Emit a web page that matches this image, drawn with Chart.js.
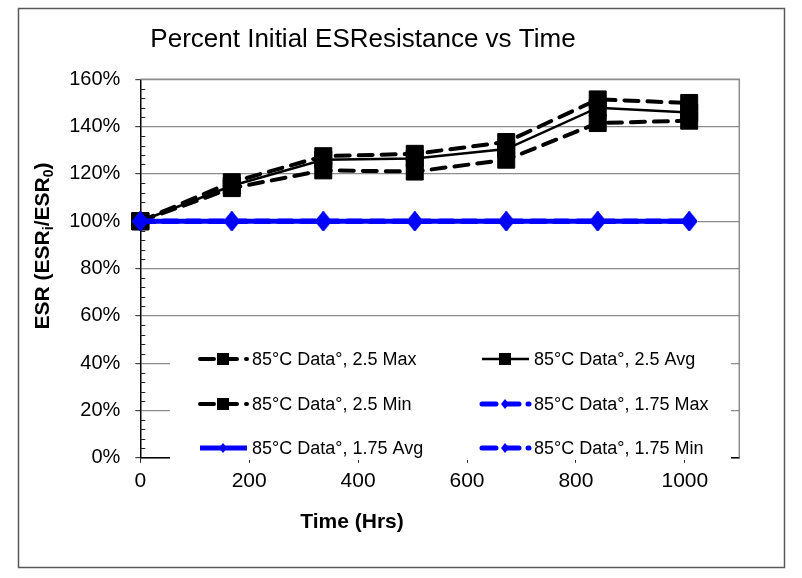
<!DOCTYPE html>
<html><head><meta charset="utf-8">
<script src="https://cdn.jsdelivr.net/npm/chart.js@4/dist/chart.umd.min.js"></script>
<style>html,body{margin:0;padding:0;background:#fff;}#wrap{width:802px;height:578px;}</style>
</head><body><div id="wrap"><canvas id="c" width="802" height="578"></canvas></div>
<script>
// ---- data ----
const hours = [0, 168, 336, 504, 672, 840, 1008];
const esr25Max = [100, 116.5, 127.5, 128.5, 133.5, 151.5, 150];
const esr25Avg = [100, 115, 126, 126.5, 130.5, 148, 146];
const esr25Min = [100, 114, 121.5, 121, 126, 141.5, 142.5];
const esr175Max = [100, 100, 100, 100, 100, 100, 100];
const esr175Avg = [100, 100, 100, 100, 100, 100, 100];
const esr175Min = [100, 100, 100, 100, 100, 100, 100];
const seriesNames = ['85°C Data°, 2.5 Max', '85°C Data°, 2.5 Avg', '85°C Data°, 2.5 Min',
                     '85°C Data°, 1.75 Max', '85°C Data°, 1.75 Avg', '85°C Data°, 1.75 Min'];
const xTickValues = [0, 200, 400, 600, 800, 1000];
const yTickValues = [0, 20, 40, 60, 80, 100, 120, 140, 160];
const chartTitle = 'Percent Initial ESResistance vs Time';
const xTitle = 'Time (Hrs)';

// ---- styling ----
const FONT = "'Liberation Sans', Arial, sans-serif";
const BLUE = '#0000ff';
function diamondImg(w, h, color) {
  const c = document.createElement('canvas'); c.width = w; c.height = h;
  const g = c.getContext('2d'); g.fillStyle = color;
  g.beginPath(); g.moveTo(w / 2, 0); g.lineTo(w, h / 2); g.lineTo(w / 2, h); g.lineTo(0, h / 2); g.closePath(); g.fill();
  return c;
}
const diamond = diamondImg(16, 20, BLUE);
const toXY = arr => arr.map((v, i) => ({ x: hours[i], y: v }));
const blackDash = { borderColor: '#000', borderWidth: 4, borderDash: [14, 9], borderCapStyle: 'round',
  pointStyle: 'rect', pointRadius: 12, pointBackgroundColor: '#000', pointBorderColor: '#000', pointBorderWidth: 1, order: 2 };
const blueBase = { borderColor: BLUE, borderWidth: 5, pointStyle: diamond, pointRadius: 9, order: 0 };

const datasets = [
  Object.assign({ label: seriesNames[0], data: toXY(esr25Max) }, blackDash),
  { label: seriesNames[1], data: toXY(esr25Avg), borderColor: '#000', borderWidth: 2.5, pointStyle: 'rect',
    pointRadius: 12, pointBackgroundColor: '#000', pointBorderColor: '#000', pointBorderWidth: 1, order: 1 },
  Object.assign({ label: seriesNames[2], data: toXY(esr25Min) }, blackDash),
  Object.assign({ label: seriesNames[3], data: toXY(esr175Max), borderDash: [14, 9], borderCapStyle: 'round' }, blueBase),
  Object.assign({ label: seriesNames[4], data: toXY(esr175Avg) }, blueBase),
  Object.assign({ label: seriesNames[5], data: toXY(esr175Min), borderDash: [14, 9], borderCapStyle: 'round' }, blueBase)
].map(d => Object.assign({ clip: false, fill: false, tension: 0 }, d));

const yMinorStep = 4;
const decor = {
  id: 'decor',
  beforeDraw(chart) {
    const ctx = chart.ctx; ctx.save(); ctx.fillStyle = '#fff'; ctx.fillRect(0, 0, chart.width, chart.height); ctx.restore();
  },
  beforeDatasetsDraw(chart) {
    const { ctx, chartArea: a, scales: { y } } = chart;
    ctx.save();
    ctx.strokeStyle = '#8c8c8c'; ctx.lineWidth = 1.5;
    ctx.beginPath(); ctx.moveTo(a.left, a.top); ctx.lineTo(a.right, a.top); ctx.lineTo(a.right, a.bottom); ctx.stroke();
    ctx.strokeStyle = '#222'; ctx.lineWidth = 1; ctx.beginPath();
    for (let v = y.min; v <= y.max; v += yMinorStep) {
      if (yTickValues.includes(v)) continue;
      const py = Math.round(y.getPixelForValue(v)) + 0.5;
      ctx.moveTo(a.left, py); ctx.lineTo(a.left + 5, py);
    }
    ctx.stroke();
    ctx.restore();
  },
  afterDraw(chart) {
    const ctx = chart.ctx;
    ctx.save();
    // legend box (covers part of the x axis as in the reference)
    ctx.fillStyle = '#fff'; ctx.fillRect(170, 334, 561, 126);
    const cols = [200, 482], rows = [359, 404, 448];
    chart.data.datasets.forEach((ds, i) => {
      const x0 = cols[i % 2], yy = rows[Math.floor(i / 2)];
      ctx.save();
      ctx.strokeStyle = ds.borderColor; ctx.lineWidth = ds.borderWidth;
      ctx.lineCap = ds.borderCapStyle || 'butt';
      ctx.setLineDash(ds.borderDash || []);
      ctx.beginPath(); ctx.moveTo(x0, yy); ctx.lineTo(x0 + 47, yy); ctx.stroke();
      ctx.setLineDash([]);
      const mx = x0 + 23;
      ctx.fillStyle = ds.borderColor;
      if (ds.pointStyle === 'rect') { ctx.fillRect(mx - 6, yy - 6, 12, 12); }
      else { ctx.beginPath(); ctx.moveTo(mx, yy - 5); ctx.lineTo(mx + 4, yy); ctx.lineTo(mx, yy + 5); ctx.lineTo(mx - 4, yy); ctx.closePath(); ctx.fill(); }
      ctx.restore();
      ctx.fillStyle = '#000'; ctx.font = '18px ' + FONT; ctx.textBaseline = 'middle'; ctx.textAlign = 'left';
      ctx.fillText(ds.label, x0 + 52, yy + 1);
    });
    // chart title
    ctx.fillStyle = '#000'; ctx.textAlign = 'center'; ctx.textBaseline = 'alphabetic';
    ctx.font = '26px ' + FONT; ctx.fillText(chartTitle, 363, 47);
    // x title
    ctx.font = 'bold 21px ' + FONT; ctx.textBaseline = 'middle'; ctx.fillText(xTitle, 352, 522);
    // y title with subscripts
    ctx.save(); ctx.translate(42, 246); ctx.rotate(-Math.PI / 2);
    const parts = [['ESR (ESR', 0], ['i', 1], ['/ESR', 0], ['0', 1], [')', 0]];
    const big = 'bold 21px ' + FONT, small = 'bold 14px ' + FONT;
    let total = 0;
    parts.forEach(p => { ctx.font = p[1] ? small : big; total += ctx.measureText(p[0]).width; });
    let cx = -total / 2; ctx.textAlign = 'left'; ctx.textBaseline = 'alphabetic';
    parts.forEach(p => { ctx.font = p[1] ? small : big; ctx.fillText(p[0], cx, p[1] ? 11 : 7); cx += ctx.measureText(p[0]).width; });
    ctx.restore();
    // outer border
    ctx.strokeStyle = '#595959'; ctx.lineWidth = 1.5; ctx.strokeRect(18.5, 8.5, 766, 559);
    ctx.restore();
  }
};

new Chart(document.getElementById('c'), {
  type: 'line',
  data: { datasets },
  options: {
    responsive: false, animation: false, devicePixelRatio: 1,
    layout: { padding: { left: 0, top: 79.3, right: 62.7, bottom: 0 } },
    plugins: { legend: { display: false }, title: { display: false }, tooltip: { enabled: false } },
    scales: {
      x: {
        type: 'linear', min: 0, max: 1100,
        afterFit: s => { s.height = 120.2; },
        afterBuildTicks: s => { s.ticks = xTickValues.map(v => ({ value: v })); },
        grid: { drawOnChartArea: false, drawTicks: true, tickLength: 5, tickColor: '#222' },
        border: { color: '#000', width: 1.5 },
        ticks: { color: '#000', font: { family: FONT, size: 21 }, padding: 6, maxRotation: 0, callback: v => String(v) }
      },
      y: {
        min: 0, max: 160,
        afterFit: s => { s.width = 140.3; },
        afterBuildTicks: s => { s.ticks = yTickValues.map(v => ({ value: v })); },
        grid: { color: '#8c8c8c', lineWidth: 1.2, tickLength: 5, tickColor: '#444' },
        border: { color: '#000', width: 1.5 },
        ticks: { color: '#000', font: { family: FONT, size: 20 }, padding: 15, callback: v => v + '%' }
      }
    }
  },
  plugins: [decor]
});
</script></body></html>
